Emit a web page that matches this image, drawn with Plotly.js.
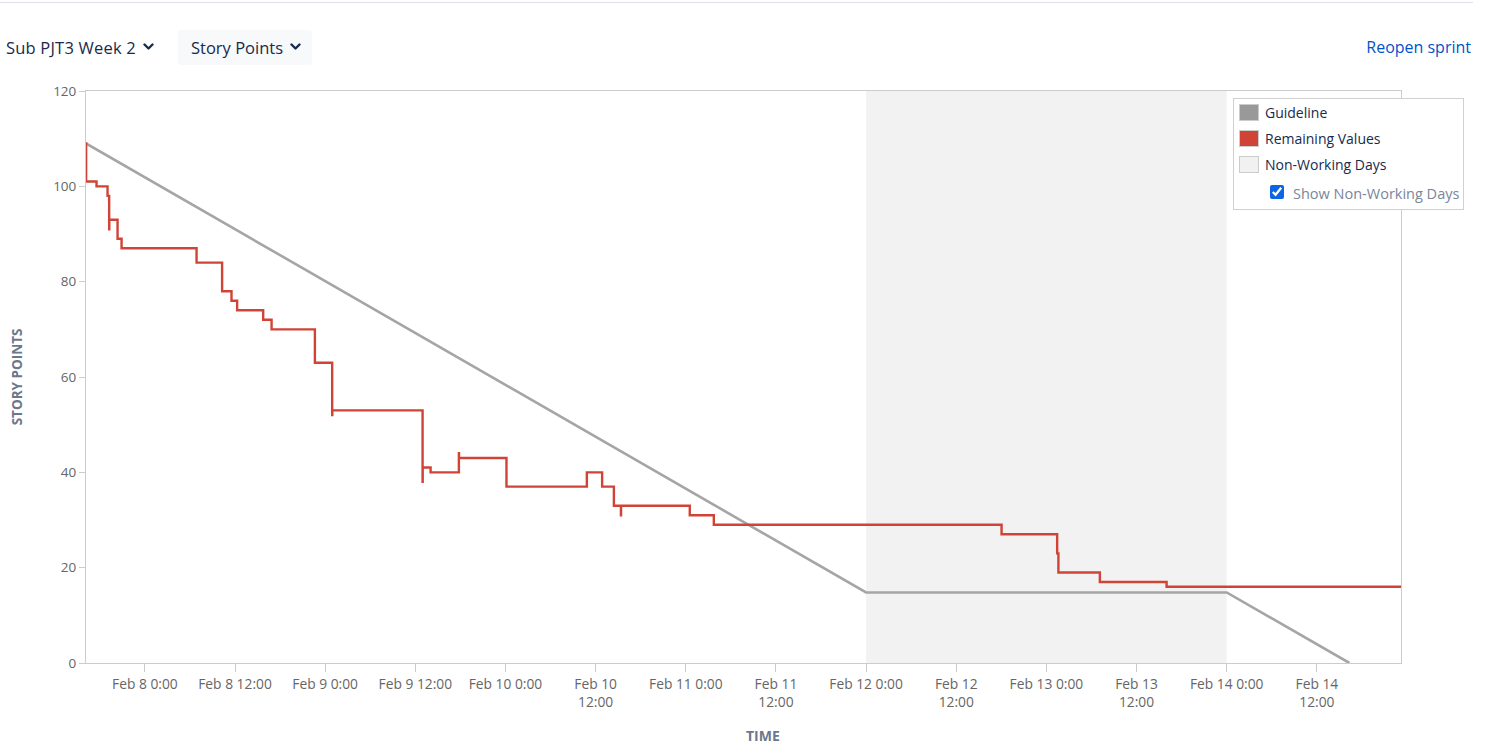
<!DOCTYPE html>
<html>
<head>
<meta charset="utf-8">
<script src="https://cdn.plot.ly/plotly-3.0.1.min.js"></script>
<style>
  html, body { margin:0; padding:0; background:#fff; width:1494px; height:748px; overflow:hidden; font-family:"Open Sans","Noto Sans",sans-serif; }
  #topline { position:absolute; left:0; top:2px; width:1473px; height:1px; background:#dfe1e6; }
  .hdr { position:absolute; top:30px; height:35px; line-height:35px; font-size:16.5px; color:#172b4d; white-space:nowrap; }
  #sprint { left:6px; letter-spacing:0.2px; }
  #metric { left:178px; width:134px; background:#f8f9fa; border-radius:3px; padding-left:13px; box-sizing:border-box; }
  .chev { position:absolute; top:13px; width:11px; height:8px; }
  #reopen { position:absolute; right:23px; top:30px; line-height:35px; font-size:16px; color:#0052cc; }
  #chart { position:absolute; left:0; top:0; width:1494px; height:748px; }
  #legend { position:absolute; left:1233px; top:98px; width:231px; height:112px; border:1px solid #d0d0d0; background:#fff; box-sizing:border-box; font-size:14px; color:#172b4d; }
  .li { position:absolute; left:5px; height:18px; line-height:18px; }
  .sw { position:absolute; left:0; top:0; width:20px; height:17px; box-sizing:border-box; border:1px solid #ccc; }
  .lt { position:absolute; left:26px; top:0px; white-space:nowrap; }
  #cb { position:absolute; left:36px; top:86px; margin:0; width:14px; height:14px; accent-color:#0c66e4; }
  #cbt { position:absolute; left:59px; top:87px; line-height:16px; font-size:14.5px; color:#7a869a; white-space:nowrap; }
</style>
</head>
<body>
<div id="chart"></div>
<div id="topline"></div>
<div class="hdr" id="sprint">Sub PJT3 Week 2<svg class="chev" style="left:137px" viewBox="0 0 11 8"><path d="M1.5 1.5 L5.5 5.5 L9.5 1.5" fill="none" stroke="#172b4d" stroke-width="2.4" stroke-linecap="round" stroke-linejoin="round"/></svg></div>
<div class="hdr" id="metric">Story Points<svg class="chev" style="left:112px" viewBox="0 0 11 8"><path d="M1.5 1.5 L5.5 5.5 L9.5 1.5" fill="none" stroke="#172b4d" stroke-width="2.4" stroke-linecap="round" stroke-linejoin="round"/></svg></div>
<div id="reopen">Reopen sprint</div>
<div id="legend">
  <div class="li" style="top:5px;"><div class="sw" style="background:#999;"></div><div class="lt">Guideline</div></div>
  <div class="li" style="top:31px;"><div class="sw" style="background:#d04437;"></div><div class="lt">Remaining Values</div></div>
  <div class="li" style="top:57px;"><div class="sw" style="background:#f1f1f1;"></div><div class="lt">Non-Working Days</div></div>
  <input type="checkbox" id="cb" checked>
  <div id="cbt">Show Non-Working Days</div>
</div>
<script>
// Remaining values (step line)
const remainingTimes = [
  '2022-02-07 16:10','2022-02-07 16:11','2022-02-07 17:34','2022-02-07 19:02','2022-02-07 19:15','2022-02-07 19:16',
  '2022-02-07 20:22','2022-02-07 20:54','2022-02-08 06:53','2022-02-08 10:17','2022-02-08 11:32','2022-02-08 12:17',
  '2022-02-08 15:45','2022-02-08 16:52','2022-02-08 22:38','2022-02-09 00:56','2022-02-09 00:57','2022-02-09 12:58',
  '2022-02-09 12:59','2022-02-09 14:02','2022-02-09 17:48','2022-02-09 17:49','2022-02-10 00:08','2022-02-10 10:50',
  '2022-02-10 12:52','2022-02-10 14:26','2022-02-10 15:22','2022-02-10 15:23','2022-02-11 00:32','2022-02-11 03:44',
  '2022-02-12 18:02','2022-02-13 01:26','2022-02-13 01:36','2022-02-13 07:07','2022-02-13 16:00','2022-02-14 23:12'
];
const remainingValues = [
  109,101,100,98,91,93,
  89,87,84,78,76,74,
  72,70,63,52,53,38,
  41,40,44,43,37,40,
  37,33,31,33,31,29,
  27,23,19,17,16,16
];
// Guideline
const guideTimes = ['2022-02-07 16:10','2022-02-12 00:00','2022-02-14 00:00','2022-02-14 16:20'];
const guideValues = [109, 14.8, 14.8, 0];
// Non-working days
const nonWorkStart = '2022-02-12 00:00';
const nonWorkEnd = '2022-02-14 00:00';
// Axis
const xRange = ['2022-02-07 16:10','2022-02-14 23:12'];
const tickVals = ['2022-02-08 00:00','2022-02-08 12:00','2022-02-09 00:00','2022-02-09 12:00','2022-02-10 00:00','2022-02-10 12:00',
  '2022-02-11 00:00','2022-02-11 12:00','2022-02-12 00:00','2022-02-12 12:00','2022-02-13 00:00','2022-02-13 12:00',
  '2022-02-14 00:00','2022-02-14 12:00'];
const tickText = ['Feb 8 0:00','Feb 8 12:00','Feb 9 0:00','Feb 9 12:00','Feb 10 0:00','Feb 10<br>12:00',
  'Feb 11 0:00','Feb 11<br>12:00','Feb 12 0:00','Feb 12<br>12:00','Feb 13 0:00','Feb 13<br>12:00',
  'Feb 14 0:00','Feb 14<br>12:00'];
const yTicks = [0,20,40,60,80,100,120];
const xTitle = 'TIME';
const yTitle = 'STORY POINTS';

const traces = [
  {x: guideTimes, y: guideValues, type:'scatter', mode:'lines', name:'Guideline',
   line:{color:'#a5a5a5', width:2.6}, hoverinfo:'skip'},
  {x: remainingTimes, y: remainingValues, type:'scatter', mode:'lines', name:'Remaining Values',
   line:{color:'#d04437', width:2.4, shape:'hv'}, hoverinfo:'skip'}
];
const layout = {
  width:1494, height:748,
  margin:{l:86, r:93, t:91, b:85},
  paper_bgcolor:'rgba(0,0,0,0)', plot_bgcolor:'#fff',
  showlegend:false,
  font:{family:'"Open Sans","Noto Sans",sans-serif', color:'#666', size:12},
  xaxis:{type:'date', range:xRange, tickvals:tickVals, ticktext:tickText, tickangle:0,
    showgrid:false, zeroline:false, showline:true, linecolor:'#ccc', linewidth:1, mirror:true,
    ticks:'outside', ticklen:8, tickcolor:'#ccc', tickfont:{size:13.8, color:'#666'}},
  yaxis:{range:[0,120], tickvals:yTicks, showgrid:false, zeroline:false, showline:true, linecolor:'#ccc', mirror:true,
    ticks:'outside', ticklen:6, tickcolor:'#ccc', tickfont:{size:13.5, color:'#666'},
    title:{text:'<b>'+yTitle+'</b>', font:{size:13.5, color:'#6b778c'}, standoff:27}},
  annotations:[{text:'<b>'+xTitle+'</b>', xref:'paper', yref:'paper', x:(763-86)/(1401-86), y:-(735-663)/(663-91),
    xanchor:'center', yanchor:'middle', showarrow:false, font:{size:14, color:'#6b778c'}}],
  shapes:[{type:'rect', xref:'x', yref:'paper', x0:nonWorkStart, x1:nonWorkEnd, y0:0, y1:1,
    fillcolor:'#f2f2f2', line:{width:0}, layer:'below'}]
};
Plotly.newPlot('chart', traces, layout, {displayModeBar:false, staticPlot:true});
</script>
</body>
</html>
